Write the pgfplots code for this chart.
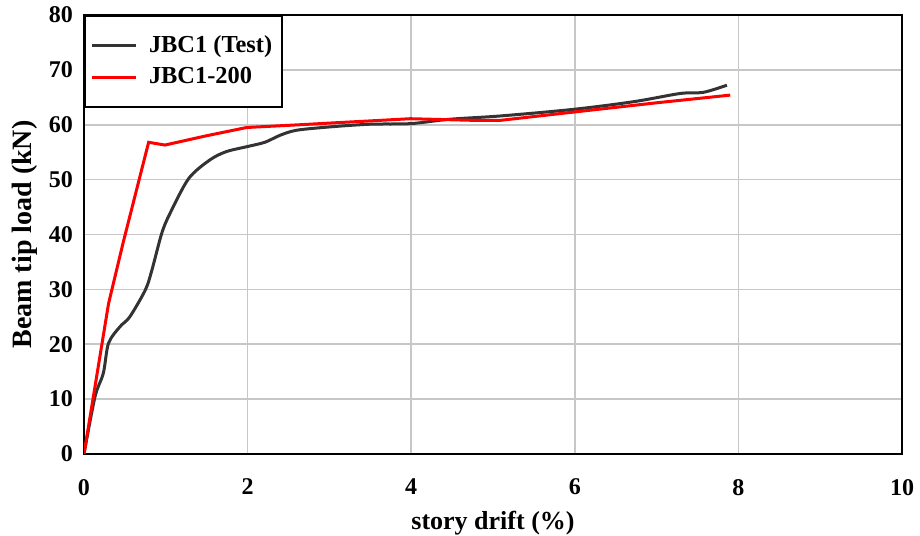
\documentclass[border=0pt]{standalone}
\usepackage{pgfplots}
\pgfplotsset{compat=1.18}
\usepackage{fontspec}
\setmainfont{Liberation Serif}
\definecolor{darkline}{HTML}{333333}
\begin{document}
\begin{tikzpicture}
\begin{axis}[
  scale only axis,
  width=409pt, height=219.5pt,
  xmin=0, xmax=10, ymin=0, ymax=80,
  xtick={0,2,4,6,8,10}, ytick={0,10,20,30,40,50,60,70,80},
  grid=major,
  major grid style={line width=0.8pt, draw=black!22},
  axis line style={line width=1.2pt},
  major tick length=0pt,
  /pgf/number format/assume math mode=true,
  ticklabel style={font=\fontsize{12}{14}\selectfont\bfseries},
  xticklabel style={yshift=-9pt},
  yticklabel style={xshift=-2pt},
  xlabel={story drift (\%)},
  ylabel={Beam tip load (kN)},
  xlabel style={font=\fontsize{13}{15}\selectfont\bfseries, yshift=-1pt},
  ylabel style={font=\fontsize{14}{16}\selectfont\bfseries, yshift=-1pt},
  legend style={at={(0,1)}, anchor=north west, draw=black, line width=0.8pt,
    font=\fontsize{12.2}{14}\selectfont\bfseries, inner xsep=3pt, inner ysep=8pt,
    row sep=2pt, cells={anchor=west}},
  legend image code/.code={\draw[#1, line width=1.5pt] (0cm,0cm) -- (0.76cm,0cm); \path (0.9cm,0cm);},
]
\addplot[darkline, line width=1.5pt, smooth] coordinates {
(0,0) (0.134,10.4) (0.236,14.7) (0.30,20.2) (0.44,23.2) (0.56,25.0) (0.75,29.9) (0.83,33.5) (0.95,40.2) (1.05,43.8) (1.28,50.2) (1.54,53.6) (1.74,55.1) (1.99,56.0) (2.21,56.8) (2.40,58.1) (2.60,59.0) (3.0,59.6) (3.5,60.1) (3.99,60.2) (4.47,61.0) (5.09,61.6) (5.98,62.8) (6.72,64.2) (7.29,65.7) (7.57,65.9) (7.86,67.2)
};
\addlegendentry{JBC1 (Test)}
\addplot[red, line width=1.5pt] coordinates {
(0,0) (0.30,27.4) (0.48,38.6) (0.79,56.8) (0.99,56.3) (1.5,58.0) (1.99,59.5) (2.64,60.0) (3.0,60.3) (3.5,60.7) (3.99,61.1) (4.76,60.8) (5.09,60.8) (5.98,62.3) (7.0,64.0) (7.90,65.4)
};
\addlegendentry{JBC1-200}
\end{axis}
\pgfresetboundingbox
\path[use as bounding box] ([shift={(-42pt,-41pt)}]current axis.south west) rectangle ([shift={(9pt,7.5pt)}]current axis.north east);
\end{tikzpicture}
\end{document}
